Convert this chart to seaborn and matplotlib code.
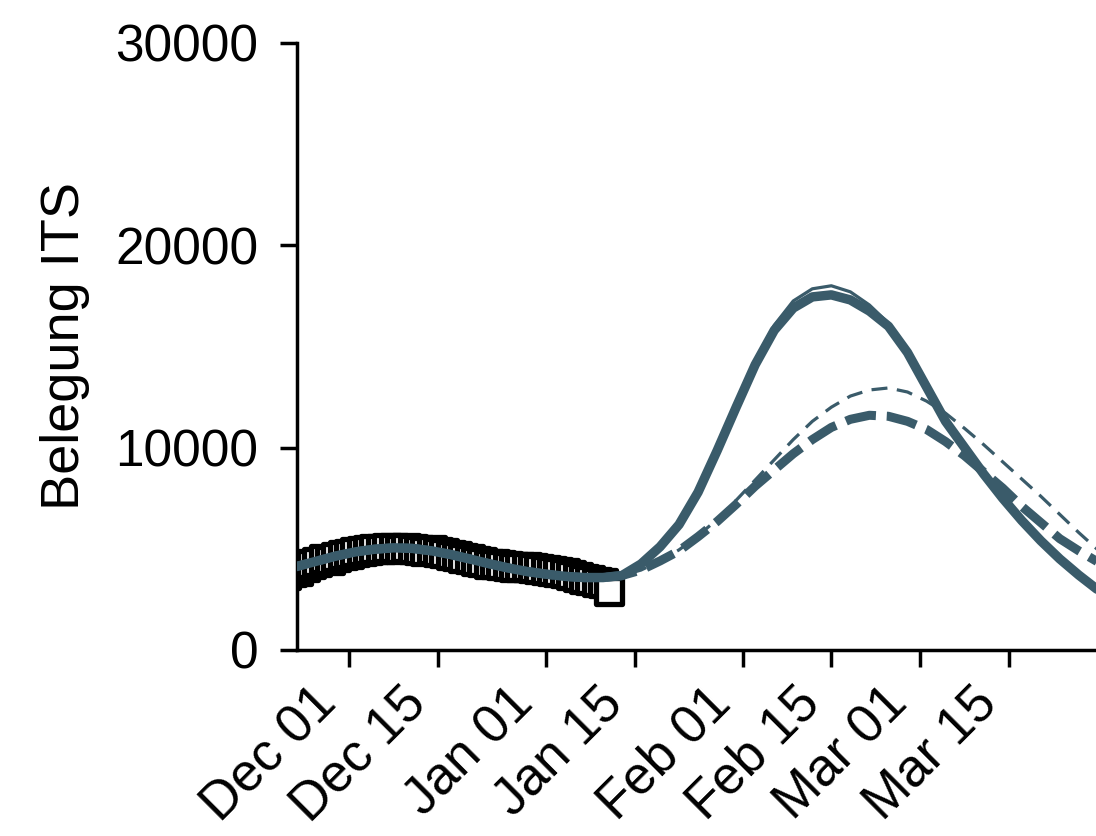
import pandas as pd
import matplotlib
matplotlib.use("Agg")
import matplotlib.pyplot as plt
import matplotlib.transforms as mtransforms
import seaborn as sns

# observed ICU occupancy (daily, squares)
obs_dates = pd.date_range("2020-11-21", "2021-01-11", freq="D")
obs_values = [3700, 3850, 3900, 4100, 4250, 4350, 4500, 4450, 4600, 4700,
              4750, 4850, 4900, 4950, 5000, 5000, 5050, 5050, 5000, 5050,
              5000, 4950, 4900, 4950, 4850, 4800, 4700, 4650, 4550, 4500,
              4400, 4350, 4250, 4250, 4200, 4150, 4100, 4100, 4100, 4050,
              4000, 3950, 3900, 3850, 3800, 3700, 3600, 3500, 3450, 3350,
              3300, 2900]

# model curves, every 3 days
model_dates = pd.date_range("2020-11-20", "2021-03-29", freq="3D")
common = [3900, 4150, 4400, 4650, 4850, 4980, 5050, 5020, 4900, 4720,
          4500, 4270, 4060, 3880, 3750, 3640, 3580, 3580, 3680]
solid_thick = common + [4250, 5100, 6200, 7800, 9850, 12000, 14100, 15800, 16900,
                        17450, 17550, 17300, 16750, 16000, 14700, 13000, 11300,
                        10000, 8700, 7500, 6400, 5400, 4500, 3700, 2970]
solid_thin = common + [4250, 5100, 6250, 7900, 9950, 12150, 14300, 16050, 17250,
                       17850, 18000, 17700, 17050, 16150, 14800, 13050, 11350,
                       10000, 8700, 7500, 6400, 5400, 4500, 3700, 2970]
dashed_thick = common + [3950, 4400, 4900, 5600, 6350, 7200, 8100, 8900, 9700,
                         10400, 11000, 11400, 11600, 11550, 11300, 10900, 10300,
                         9600, 8800, 8000, 7100, 6300, 5500, 4900, 4350]
dashed_thin = common + [3950, 4400, 4950, 5650, 6450, 7400, 8400, 9400, 10400,
                        11300, 12000, 12550, 12850, 12950, 12750, 12300, 11700,
                        10950, 10150, 9300, 8450, 7600, 6700, 5800, 4950]

tick_dates = pd.to_datetime(["2020-12-01", "2020-12-15", "2021-01-01", "2021-01-15",
                             "2021-02-01", "2021-02-15", "2021-03-01", "2021-03-15"])
tick_labels = ["Dec 01", "Dec 15", "Jan 01", "Jan 15",
               "Feb 01", "Feb 15", "Mar 01", "Mar 15"]
y_ticks = [0, 10000, 20000, 30000]

sns.set_style("ticks")
plt.rcParams["font.family"] = ["Liberation Sans", "DejaVu Sans"]
plt.rcParams["text.color"] = "black"
plt.rcParams["axes.labelcolor"] = "black"
plt.rcParams["xtick.color"] = "black"
plt.rcParams["ytick.color"] = "black"

col = "#3a5b6a"

fig = plt.figure(figsize=(10.96, 8.36), dpi=100)
ax = fig.add_axes([0.271, 0.2225, 0.729, 0.7261])

# observed squares
sns.scatterplot(x=obs_dates, y=obs_values, marker="s", s=360, color="white",
                edgecolor="black", linewidth=3.8, zorder=2, ax=ax)

# model lines
sns.lineplot(x=model_dates, y=dashed_thin, color=col, linewidth=2.3,
             linestyle=(0, (5.0, 3.0)), zorder=3, ax=ax)
sns.lineplot(x=model_dates, y=dashed_thick, color=col, linewidth=6.5,
             linestyle=(0, (3.4, 1.2)), zorder=3, ax=ax)
sns.lineplot(x=model_dates, y=solid_thick, color=col, linewidth=6.8, zorder=3, ax=ax)
sns.lineplot(x=model_dates, y=solid_thin, color=col, linewidth=2.3, zorder=3, ax=ax)

ax.set_xlim(pd.Timestamp("2020-11-22 19:00"), pd.Timestamp("2021-03-28 17:00"))
ax.set_ylim(0, 30000)
ax.set_yticks(y_ticks)
ax.set_xticks(tick_dates, labels=tick_labels)

ax.set_ylabel("Belegung ITS", fontsize=39, labelpad=18)
ax.set_xlabel("")
ax.tick_params(axis="y", labelsize=37, length=12, width=2.5, pad=16)
ax.tick_params(axis="x", labelsize=38, length=12, width=2.5, pad=8)

# rotated date labels, shifted left of their ticks
shift = mtransforms.ScaledTranslation(-27 / 72, 0, fig.dpi_scale_trans)
for lab in ax.get_xticklabels():
    lab.set_rotation(45)
    lab.set_ha("right")
    lab.set_va("top")
    lab.set_rotation_mode("anchor")
    lab.set_transform(lab.get_transform() + shift)

sns.despine(ax=ax)
for side in ["left", "bottom"]:
    ax.spines[side].set_linewidth(2.5)
    ax.spines[side].set_color("black")

fig.savefig("out.png", dpi=100)
